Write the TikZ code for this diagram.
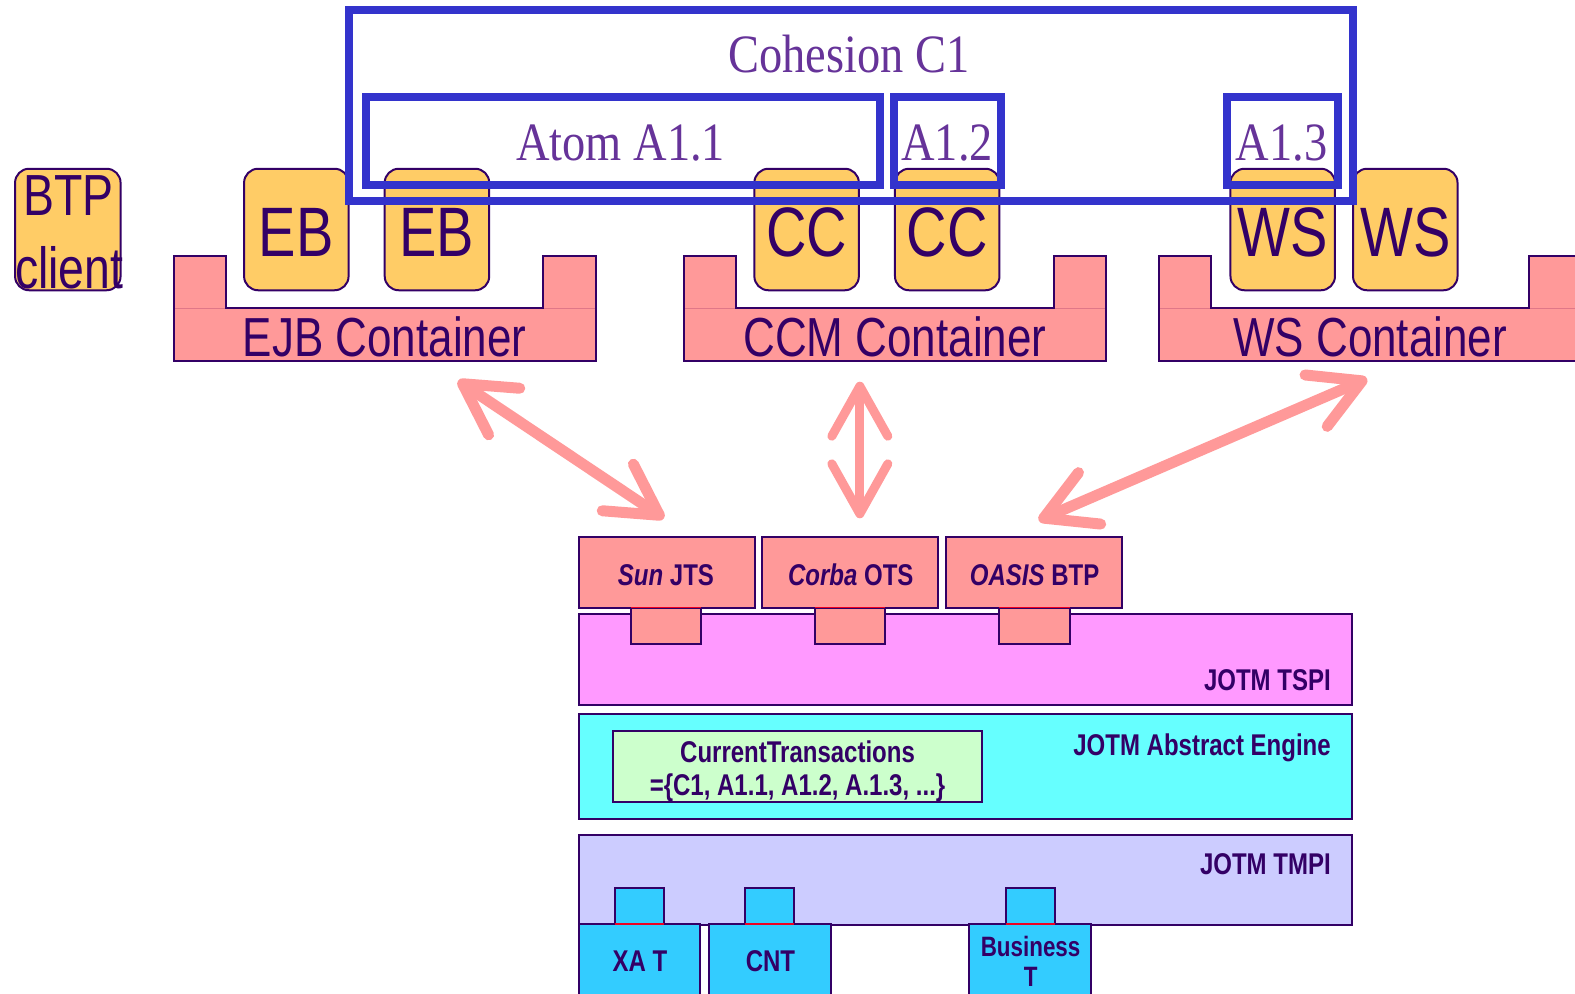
\documentclass[tikz,border=0pt]{standalone}
\usepackage{fontspec}
\usetikzlibrary{arrows.meta}
\newfontfamily\arialn{Liberation Sans}[FakeStretch=0.8]
\newfontfamily\timesn{Liberation Serif}[FakeStretch=0.86]
\definecolor{dpurple}{HTML}{330066}
\definecolor{lpurple}{HTML}{663399}
\definecolor{cblue}{HTML}{3333CC}
\definecolor{ypink}{HTML}{FF9999}
\definecolor{seampink}{HTML}{E07788}
\definecolor{yorange}{HTML}{FFCC66}
\definecolor{magl}{HTML}{FF99FF}
\definecolor{cyanl}{HTML}{66FFFF}
\definecolor{lgreen}{HTML}{CCFFCC}
\definecolor{lav}{HTML}{CCCCFF}
\definecolor{sky}{HTML}{33CCFF}
\definecolor{redl}{HTML}{EE0022}
\newcommand\mkcontainer[2]{%
  \draw[dpurple, line width=2pt, fill=ypink, line join=miter]
    (#1,255) -- (#1+52,255) -- (#1+52,307) -- (#1+368,307) -- (#1+368,255)
    -- (#1+420,255) -- (#1+420,359) -- (#1,359) -- cycle;
  \draw[seampink, line width=1.2pt] (#1+1,307) -- (#1+51,307);
  \draw[seampink, line width=1.2pt] (#1+369,307) -- (#1+419,307);
  \coordinate (#2) at (#1+210,333);
}
\begin{document}
\begin{tikzpicture}[x=1.00446pt,y=-1.00446pt,
  rbox/.style={draw=dpurple, line width=2pt, inner sep=0pt, outer sep=0pt, anchor=north west},
  ybox/.style={rbox, fill=yorange, rounded corners=14pt, minimum width=104.5pt, minimum height=121.5pt},
  bbox/.style={draw=cblue, line width=8pt, inner sep=0pt, outer sep=0pt, anchor=north west},
  txt/.style={inner sep=0pt, anchor=base, text=dpurple},
  serif/.style={inner sep=0pt, anchor=base, text=lpurple, font=\timesn\fontsize{54}{54}\selectfont},
  big/.style={txt, font=\arialn\fontsize{70}{70}\selectfont},
  mid/.style={txt, font=\arialn\fontsize{58}{58}\selectfont},
  small/.style={txt, font=\arialn\bfseries\fontsize{30}{30}\selectfont},
  tabr/.style={rbox, fill=ypink, minimum width=70.3pt, minimum height=36pt},
  tabb/.style={rbox, fill=sky, minimum width=49pt, minimum height=36pt},
  redline/.style={redl, line width=1.5pt},
  arr/.style={ypink, line width=11pt,
    arrows={Straight Barb[length=50pt,width=56pt,round]-Straight Barb[length=50pt,width=56pt,round]}}
]
\useasboundingbox (0,0) rectangle (1568,989);
\clip (0,0) rectangle (1568,989);

% BTP client
\node[ybox, minimum width=105.5pt] (btp) at (15,168) {};
\node[mid] (btpt1) at (68,215) {BTP};
\node[mid] (btpt2) at (69,287) {client};

% containers
\mkcontainer{173}{ejbc}
\mkcontainer{681}{ccmc}
\mkcontainer{1154}{wscc}
\node[mid, font=\arialn\fontsize{55}{55}\selectfont] (ejbt) at (383,355) {EJB Container};
\node[mid, font=\arialn\fontsize{55}{55}\selectfont] (ccmt) at (891,355) {CCM Container};
\node[mid, font=\arialn\fontsize{55}{55}\selectfont] (wsct) at (1364,355) {WS Container};

% beans
\node[ybox] (eb1) at (243,168) {};
\node[ybox] (eb2) at (383,168) {};
\node[ybox] (cc1) at (751,168) {};
\node[ybox] (cc2) at (891,168) {};
\node[ybox] (ws1) at (1225,168) {};
\node[ybox] (ws2) at (1347,168) {};
\node[big] (eb1t) at (295,255) {EB};
\node[big] (eb2t) at (435,255) {EB};
\node[big] (cc1t) at (803,255) {CC};
\node[big] (cc2t) at (943,255) {CC};
\node[big] (ws1t) at (1277,255) {WS};
\node[big] (ws2t) at (1399,255) {WS};

% cohesion / atoms
\node[bbox, minimum width=1004.5pt, minimum height=191pt] (c1) at (347,10) {};
\node[bbox, minimum width=514pt, minimum height=87.5pt] (a11) at (364,97) {};
\node[bbox, minimum width=107.5pt, minimum height=87.5pt] (a12) at (890,97) {};
\node[bbox, minimum width=110.5pt, minimum height=87.5pt] (a13) at (1222,97) {};
\node[serif] (c1t) at (845,72) {Cohesion C1};
\node[serif] (a11t) at (618,160) {Atom A1.1};
\node[serif] (a12t) at (943,160) {A1.2};
\node[serif] (a13t) at (1276,160) {A1.3};

% arrows
\coordinate (ar1a) at (456,379);
\coordinate (ar1b) at (661,516);
\coordinate (ar2a) at (856,380);
\coordinate (ar2b) at (856,516);
\coordinate (ar3a) at (1361,377);
\coordinate (ar3b) at (1034,518);
\draw[arr] (ar1a) -- (ar1b);
\draw[arr, line width=9pt] (ar2a) -- (ar2b);
\draw[arr] (ar3a) -- (ar3b);

% bottom stack
\node[rbox, fill=ypink, minimum width=176pt, minimum height=70.3pt] (sunjts) at (576,535) {};
\node[rbox, fill=ypink, minimum width=176pt, minimum height=70.3pt] (corba) at (759,535) {};
\node[rbox, fill=ypink, minimum width=176pt, minimum height=70.3pt] (oasis) at (942,535) {};
\node[small] (sunt) at (663,583) {\textit{Sun} JTS};
\node[small] (corbat) at (847,583) {\textit{Corba} OTS};
\node[small] (oasist) at (1030,583) {\textit{OASIS} BTP};

\node[rbox, fill=magl, minimum width=773.5pt, minimum height=91.4pt] (tspi) at (576,611) {};
\node[tabr] (tab1) at (628,605) {};
\node[tabr] (tab2) at (811,605) {};
\node[tabr] (tab3) at (995,605) {};
\draw[redline] (tab1.north west) -- (tab1.north east);
\draw[redline] (tab2.north west) -- (tab2.north east);
\draw[redline] (tab3.north west) -- (tab3.north east);
\node[small, anchor=base east] (tspit) at (1325,687) {JOTM TSPI};

\node[rbox, fill=cyanl, minimum width=773.5pt, minimum height=104.5pt] (engine) at (576,711) {};
\node[small, anchor=base east] (enginet) at (1325,752) {JOTM Abstract Engine};
\node[rbox, fill=lgreen, minimum width=369.6pt, minimum height=70.3pt] (curtx) at (610,728) {};
\node[small] (curtx1) at (794,759) {CurrentTransactions};
\node[small] (curtx2) at (794,792) {=\{C1, A1.1, A1.2, A.1.3, ...\}};

\node[rbox, fill=lav, minimum width=773.5pt, minimum height=90.4pt] (tmpi) at (576,831) {};
\node[small, anchor=base east] (tmpit) at (1325,871) {JOTM TMPI};
\node[tabb] (tb1) at (612,884) {};
\node[tabb] (tb2) at (742,884) {};
\node[tabb] (tb3) at (1002,884) {};
\node[rbox, fill=sky, minimum width=121.5pt, minimum height=90pt] (xat) at (576,920) {};
\node[rbox, fill=sky, minimum width=121.5pt, minimum height=90pt] (cnt) at (706,920) {};
\node[rbox, fill=sky, minimum width=121.5pt, minimum height=90pt] (bus) at (965,920) {};
\draw[redline] (tb1.south west) -- (tb1.south east);
\draw[redline] (tb2.south west) -- (tb2.south east);
\draw[redline] (tb3.south west) -- (tb3.south east);
\node[small] (xatt) at (637,967) {XA T};
\node[small] (cntt) at (767,967) {CNT};
\node[small, font=\arialn\bfseries\fontsize{28}{28}\selectfont] (bust1) at (1026,952) {Business};
\node[small, font=\arialn\bfseries\fontsize{28}{28}\selectfont] (bust2) at (1026,982) {T};
\end{tikzpicture}
\end{document}
